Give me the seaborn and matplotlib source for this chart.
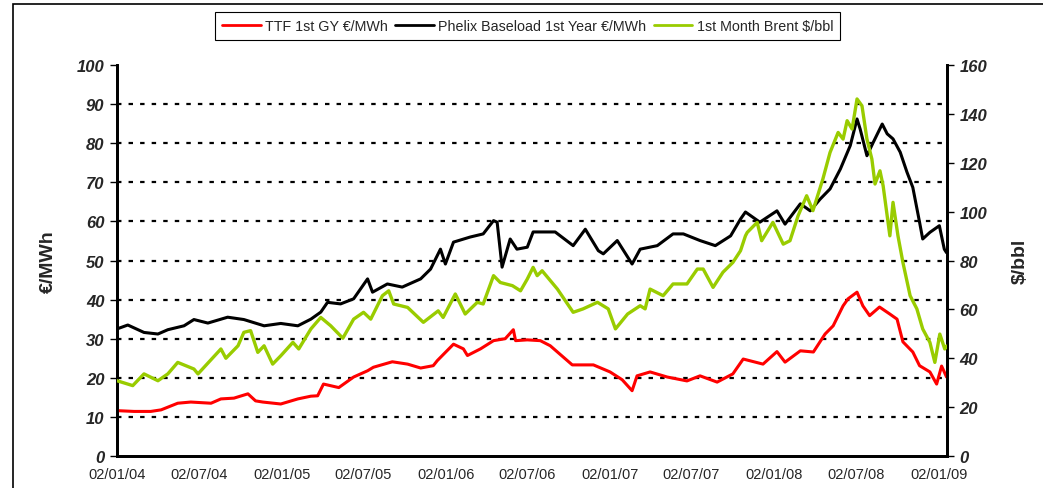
import pandas as pd
import matplotlib
matplotlib.use("Agg")
import matplotlib.pyplot as plt
import matplotlib.dates as mdates
from matplotlib.lines import Line2D
from matplotlib.patches import Rectangle
import seaborn as sns

# TTF 1st GY (EUR/MWh)
ttf_dates = ["2004-01-02", "2004-02-09", "2004-03-17", "2004-04-09", "2004-05-16", "2004-06-14",
             "2004-07-29", "2004-08-20", "2004-09-18", "2004-10-19", "2004-11-05", "2004-11-21",
             "2004-12-31", "2005-02-07", "2005-03-08", "2005-03-23", "2005-04-05", "2005-05-09",
             "2005-06-11", "2005-07-12", "2005-07-25", "2005-09-05", "2005-10-09", "2005-11-07",
             "2005-12-05", "2005-12-14", "2006-01-19", "2006-02-10", "2006-02-19", "2006-03-20",
             "2006-04-18", "2006-05-14", "2006-06-01", "2006-06-06", "2006-07-02", "2006-07-31",
             "2006-08-22", "2006-10-10", "2006-11-26", "2007-01-02", "2007-01-29", "2007-02-20",
             "2007-03-03", "2007-04-01", "2007-05-09", "2007-06-22", "2007-07-21", "2007-08-28",
             "2007-10-02", "2007-10-25", "2007-12-08", "2008-01-08", "2008-01-26", "2008-02-29",
             "2008-03-29", "2008-04-24", "2008-05-12", "2008-06-03", "2008-06-14", "2008-07-04",
             "2008-07-17", "2008-08-01", "2008-08-23", "2008-09-15", "2008-10-01", "2008-10-14",
             "2008-11-05", "2008-11-20", "2008-12-13", "2008-12-28", "2009-01-08", "2009-01-19"]
ttf_values = [11.6, 11.4, 11.4, 11.8, 13.5, 13.8,
              13.5, 14.6, 14.8, 15.9, 14.1, 13.8,
              13.3, 14.6, 15.3, 15.4, 18.4, 17.5,
              20.2, 21.8, 22.7, 24.1, 23.5, 22.5,
              23.1, 24.4, 28.6, 27.4, 25.7, 27.4,
              29.5, 30.0, 32.3, 29.5, 29.7, 29.5,
              28.2, 23.3, 23.3, 21.5, 19.5, 16.7,
              20.5, 21.5, 20.2, 19.2, 20.5, 18.9,
              21.0, 24.8, 23.5, 26.7, 24.0, 26.9,
              26.6, 31.2, 33.3, 38.4, 40.2, 41.9,
              38.4, 35.9, 38.1, 36.3, 35.0, 29.2,
              26.6, 23.1, 21.5, 18.4, 23.0, 20.2]

# Phelix Baseload 1st Year (EUR/MWh)
phelix_dates = ["2004-01-02", "2004-01-26", "2004-03-02", "2004-04-02", "2004-04-24", "2004-05-30",
                "2004-06-21", "2004-07-22", "2004-09-04", "2004-10-10", "2004-11-24", "2004-12-31",
                "2005-02-07", "2005-03-08", "2005-03-30", "2005-04-14", "2005-05-13", "2005-06-11",
                "2005-07-12", "2005-07-23", "2005-08-25", "2005-09-27", "2005-11-07", "2005-11-29",
                "2005-12-21", "2006-01-01", "2006-01-19", "2006-02-25", "2006-03-26", "2006-04-18",
                "2006-04-26", "2006-05-07", "2006-05-25", "2006-06-09", "2006-07-02", "2006-07-15",
                "2006-07-24", "2006-09-02", "2006-10-12", "2006-11-08", "2006-12-07", "2006-12-18",
                "2007-01-18", "2007-02-20", "2007-03-10", "2007-04-17", "2007-05-22", "2007-06-14",
                "2007-07-21", "2007-08-24", "2007-09-27", "2007-10-19", "2007-10-30", "2007-12-01",
                "2008-01-08", "2008-01-26", "2008-02-29", "2008-03-22", "2008-04-13", "2008-05-05",
                "2008-05-28", "2008-06-19", "2008-07-04", "2008-07-11", "2008-07-26", "2008-08-09",
                "2008-08-29", "2008-09-09", "2008-09-22", "2008-10-08", "2008-10-23", "2008-11-05",
                "2008-11-20", "2008-11-27", "2008-12-13", "2009-01-03", "2009-01-14", "2009-01-19"]
phelix_values = [32.5, 33.5, 31.6, 31.2, 32.3, 33.3,
                 34.9, 34.0, 35.5, 34.9, 33.3, 33.9,
                 33.3, 35.0, 36.8, 39.3, 38.9, 40.2,
                 45.3, 41.9, 44.0, 43.2, 45.3, 47.8,
                 52.9, 49.1, 54.7, 56.0, 56.8, 60.2,
                 59.8, 48.3, 55.5, 52.9, 53.4, 57.3,
                 57.3, 57.3, 53.8, 58.0, 52.5, 51.7,
                 55.1, 49.1, 52.9, 53.8, 56.8, 56.8,
                 55.1, 53.8, 56.3, 60.6, 62.4, 59.8,
                 62.7, 59.3, 64.5, 62.7, 65.7, 68.3,
                 73.4, 79.4, 86.2, 83.6, 76.8, 80.2,
                 84.9, 82.4, 81.1, 77.7, 72.6, 68.7,
                 59.8, 55.5, 57.2, 58.9, 52.9, 52.0]

# 1st Month Brent ($/bbl)
brent_dates = ["2004-01-02", "2004-02-06", "2004-03-02", "2004-04-02", "2004-04-24", "2004-05-16",
               "2004-06-21", "2004-06-30", "2004-07-22", "2004-08-20", "2004-08-31", "2004-09-27",
               "2004-10-10", "2004-10-25", "2004-11-10", "2004-11-24", "2004-12-13", "2004-12-31",
               "2005-01-27", "2005-02-09", "2005-03-08", "2005-03-30", "2005-04-21", "2005-05-18",
               "2005-06-11", "2005-07-03", "2005-07-19", "2005-08-14", "2005-08-28", "2005-09-08",
               "2005-10-09", "2005-11-13", "2005-12-16", "2005-12-27", "2006-01-23", "2006-02-14",
               "2006-03-13", "2006-03-26", "2006-04-18", "2006-05-03", "2006-05-30", "2006-06-17",
               "2006-07-02", "2006-07-15", "2006-07-24", "2006-08-04", "2006-09-07", "2006-10-12",
               "2006-11-03", "2006-12-05", "2006-12-29", "2007-01-14", "2007-02-10", "2007-03-10",
               "2007-03-21", "2007-04-01", "2007-04-30", "2007-05-22", "2007-06-22", "2007-07-15",
               "2007-07-28", "2007-08-19", "2007-09-10", "2007-10-02", "2007-10-19", "2007-10-30",
               "2007-11-03", "2007-11-25", "2007-12-05", "2007-12-30", "2008-01-22", "2008-02-06",
               "2008-02-24", "2008-03-14", "2008-03-28", "2008-04-19", "2008-05-05", "2008-05-23",
               "2008-06-03", "2008-06-12", "2008-06-23", "2008-07-04", "2008-07-15", "2008-07-26",
               "2008-08-06", "2008-08-13", "2008-08-24", "2008-08-31", "2008-09-15", "2008-09-22",
               "2008-10-03", "2008-10-14", "2008-10-30", "2008-11-14", "2008-11-27", "2008-12-13",
               "2008-12-24", "2009-01-04", "2009-01-15", "2009-01-19"]
brent_values = [30.8, 28.8, 33.6, 30.8, 33.6, 38.3,
                35.6, 33.6, 38.0, 43.8, 40.0, 45.1,
                50.6, 51.3, 42.4, 45.1, 37.6, 41.0,
                46.5, 43.8, 52.0, 56.7, 53.3, 48.2,
                56.0, 58.8, 56.0, 65.6, 67.6, 62.2,
                60.8, 54.7, 59.4, 56.7, 66.3, 58.1,
                62.9, 62.2, 73.8, 71.0, 69.7, 67.6,
                72.4, 77.2, 73.8, 75.8, 68.3, 58.8,
                60.2, 62.9, 60.2, 52.0, 58.1, 61.5,
                60.2, 68.3, 65.6, 70.4, 70.4, 76.5,
                76.5, 69.0, 75.2, 79.2, 84.0, 90.1,
                91.5, 95.6, 88.1, 95.6, 86.7, 88.1,
                98.3, 106.5, 100.4, 113.3, 124.2, 132.4,
                129.7, 137.2, 133.8, 146.1, 143.3, 129.7,
                121.5, 111.3, 116.7, 110.6, 90.1, 103.8,
                90.1, 79.2, 65.6, 60.2, 52.0, 46.5,
                38.3, 49.9, 43.8, 45.0]

tick_dates = ["2004-01-02", "2004-07-02", "2005-01-02", "2005-07-02", "2006-01-02", "2006-07-02",
              "2007-01-02", "2007-07-02", "2008-01-02", "2008-07-02", "2009-01-02"]
x_start, x_end = "2004-01-02", "2009-01-20"

ttf = pd.DataFrame({"date": pd.to_datetime(ttf_dates), "value": ttf_values})
phelix = pd.DataFrame({"date": pd.to_datetime(phelix_dates), "value": phelix_values})
brent = pd.DataFrame({"date": pd.to_datetime(brent_dates), "value": brent_values})

sns.set_style("white")
plt.rcParams["font.family"] = ["Liberation Sans", "DejaVu Sans"]

fig = plt.figure(figsize=(10.43, 4.89), dpi=100)
ax = fig.add_axes([117 / 1043, 1 - 457 / 489, (947 - 117) / 1043, (457 - 66) / 489])
ax2 = ax.twinx()

red, black, green = "#ff0000", "#000000", "#99cc00"
sns.lineplot(data=ttf, x="date", y="value", ax=ax, color=red, lw=2.2, zorder=3)
sns.lineplot(data=phelix, x="date", y="value", ax=ax, color=black, lw=2.2, zorder=3)
sns.lineplot(data=brent, x="date", y="value", ax=ax2, color=green, lw=2.4, zorder=3)

ax.set_ylim(0, 100)
ax2.set_ylim(0, 160)
ax.set_yticks(range(0, 101, 10))
ax2.set_yticks(range(0, 161, 20))
ax.set_xlim(pd.Timestamp(x_start), pd.Timestamp(x_end))
ax.set_xticks(pd.to_datetime(tick_dates))
ax.xaxis.set_major_formatter(mdates.DateFormatter("%d/%m/%y"))

# dotted gridlines at inner left-axis ticks
for v in ax.get_yticks()[1:-1]:
    ax.axhline(v, color="black", lw=1.6, ls=(0, (2, 3.2)), zorder=1)

for a in (ax, ax2):
    a.set_xlabel("")
    a.spines["top"].set_visible(False)
    for s in ("left", "right", "bottom"):
        a.spines[s].set_linewidth(2)
        a.spines[s].set_color("black")
ax.tick_params(axis="y", direction="out", length=5, width=1, color="black", pad=4)
ax2.tick_params(axis="y", direction="out", length=5, width=1, color="black", pad=4)
ax.tick_params(axis="x", direction="out", length=5, width=1, color="black", pad=3, labelsize=10.5)
for lab in ax.get_yticklabels() + ax2.get_yticklabels():
    lab.set_fontsize(12)
    lab.set_fontweight("bold")
    lab.set_fontstyle("italic")

ax.set_ylabel("€/MWh", fontsize=14, fontweight="bold", labelpad=14)
ax2.set_ylabel("$/bbl", fontsize=14, fontweight="bold", labelpad=18)

handles = [Line2D([], [], color=red, lw=2), Line2D([], [], color=black, lw=2),
           Line2D([], [], color=green, lw=2)]
labels = ["TTF 1st GY €/MWh", "Phelix Baseload 1st Year €/MWh", "1st Month Brent $/bbl"]
leg = fig.legend(handles, labels, loc="upper center", bbox_to_anchor=(0.506, 0.988), ncol=3,
                 frameon=True, fancybox=False, framealpha=1, edgecolor="black", fontsize=10.3,
                 handlelength=2.7, handletextpad=0.3, columnspacing=0.5, borderpad=0.5)
leg.get_frame().set_linewidth(0.8)

# outer chart border
fig.patches.append(Rectangle((13 / 1043, -0.1), 1.2, 1 - 5 / 489 + 0.1, transform=fig.transFigure,
                             fill=False, edgecolor="black", lw=1.2))

fig.savefig("out.png", dpi=100)
